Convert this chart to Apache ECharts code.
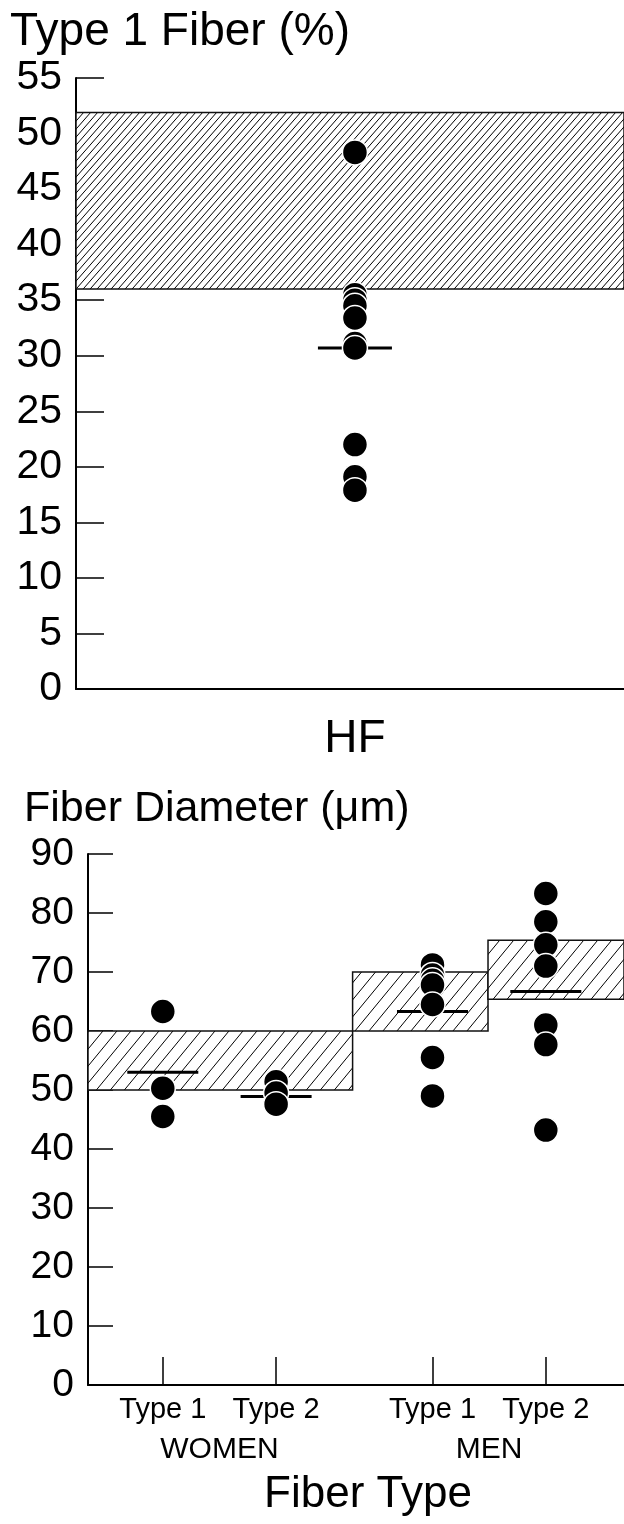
<!DOCTYPE html>
<html>
<head>
<meta charset="utf-8">
<script src="https://cdn.jsdelivr.net/npm/echarts@6/dist/echarts.min.js"></script>
<style>
html,body{margin:0;padding:0;background:#fff;}
#c{width:624px;height:1524px;}
</style>
</head>
<body>
<div id="c"></div>
<script>
// ---------- Top panel: Type 1 Fiber (%) ----------
const hfCategory = 'HF';
const hfPosition = 0.509;
const type1Values = [48.3, 35.5, 35.0, 34.5, 33.4, 31.1, 30.7, 22.0, 19.1, 17.9];
const type1Mean = 30.7;
const type1NormalRange = [0, 1, 36.0, 51.9];          // [xStart, xEnd, low, high]
const type1AxisMax = 55;
const type1AxisStep = 5;

// ---------- Bottom panel: Fiber Diameter (µm) ----------
const fiberCategories = ['Type 1', 'Type 2', 'Type 1', 'Type 2'];
const fiberPositions = [1, 2, 3.38, 4.38];
const groupNames = ['WOMEN', 'MEN'];
const groupPositions = [1.5, 3.88];
const womenType1 = [63.3, 50.3, 45.5];
const womenType2 = [51.4, 49.5, 47.6];
const menType1 = [71.2, 69.5, 68.6, 67.8, 64.5, 55.5, 49.0];
const menType2 = [83.3, 78.5, 74.6, 71.0, 61.0, 57.7, 43.2];
const diameterMeans = [53.0, 48.9, 63.3, 66.7];
const diameterRanges = [
  [0.34, 2.675, 50, 60],
  [2.675, 3.87, 60, 70],
  [3.87, 5.07, 65.4, 75.4]
];
const diameterXRange = [0.34, 5.07];
const diameterAxisMax = 90;
const diameterAxisStep = 10;

// ---------- helpers ----------
const FONT = '"Liberation Sans", Arial, Helvetica, sans-serif';

function makeHatch(p, q) {
  const cv = document.createElement('canvas');
  cv.width = p; cv.height = q;
  const ctx = cv.getContext('2d');
  ctx.fillStyle = '#fff';
  ctx.fillRect(0, 0, p, q);
  ctx.strokeStyle = '#000';
  ctx.lineWidth = 1;
  for (let k = -1; k <= 1; k++) {
    ctx.beginPath();
    ctx.moveTo(k * p, q);
    ctx.lineTo(k * p + p, 0);
    ctx.stroke();
  }
  return { image: cv, repeat: 'repeat' };
}
const hatchTop = makeHatch(7, 8);
const hatchBottom = makeHatch(14, 17);

function bandSeries(axisIdx, yIdx, data, pattern) {
  return {
    type: 'custom', xAxisIndex: axisIdx, yAxisIndex: yIdx, z: 1, silent: true, clip: false,
    data: data,
    renderItem: function (params, api) {
      const a = api.coord([api.value(0), api.value(3)]);
      const b = api.coord([api.value(1), api.value(2)]);
      return {
        type: 'rect',
        shape: { x: a[0], y: a[1], width: b[0] - a[0], height: b[1] - a[1] },
        style: { fill: pattern, stroke: '#111', lineWidth: 1.5 }
      };
    }
  };
}

function meanSeries(axisIdx, yIdx, data, halfLen) {
  return {
    type: 'custom', xAxisIndex: axisIdx, yAxisIndex: yIdx, z: 2, silent: true, clip: false,
    data: data,
    renderItem: function (params, api) {
      const c = api.coord([api.value(0), api.value(1)]);
      return {
        type: 'line',
        shape: { x1: c[0] - halfLen, y1: c[1], x2: c[0] + halfLen, y2: c[1] },
        style: { stroke: '#000', lineWidth: 3 }
      };
    }
  };
}

function scatterSeries(axisIdx, yIdx, data) {
  return {
    type: 'scatter', xAxisIndex: axisIdx, yAxisIndex: yIdx, z: 3, silent: true,
    symbol: 'circle', symbolSize: 25,
    itemStyle: { color: '#000', borderColor: '#fff', borderWidth: 1.5, opacity: 1 },
    data: data
  };
}

const topPoints = type1Values.map(v => [hfPosition, v]);
const bottomGroups = [womenType1, womenType2, menType1, menType2];
const bottomPoints = [];
bottomGroups.forEach((arr, i) => arr.forEach(v => bottomPoints.push([fiberPositions[i], v])));
const bottomMeans = diameterMeans.map((m, i) => [fiberPositions[i], m]);

const axisLineStyle = { color: '#000', width: 2 };
const tickLineStyle = { color: '#000', width: 1.5 };

const chart = echarts.init(document.getElementById('c'), null, { renderer: 'canvas' });
chart.setOption({
  animation: false,
  backgroundColor: '#fff',
  title: [
    { text: 'Type 1 Fiber (%)', left: 10, top: 9, padding: 0,
      textStyle: { fontSize: 46, fontWeight: 'normal', color: '#000', fontFamily: FONT, lineHeight: 46 } },
    { text: 'Fiber Diameter (μm)', left: 24, top: 788, padding: 0,
      textStyle: { fontSize: 43, fontWeight: 'normal', color: '#000', fontFamily: FONT, lineHeight: 43 } }
  ],
  grid: [
    { left: 76, right: 0, top: 78, bottom: 835, outerBoundsMode: 'none', containLabel: false },
    { left: 88, right: 0, top: 854, bottom: 139, outerBoundsMode: 'none', containLabel: false }
  ],
  xAxis: [
    { gridIndex: 0, type: 'value', min: 0, max: 1, position: 'bottom',
      axisLine: { show: true, lineStyle: axisLineStyle },
      axisTick: { show: false }, splitLine: { show: false },
      axisLabel: { show: true, customValues: [hfPosition], formatter: () => hfCategory,
        fontSize: 46, margin: 27, color: '#000', fontFamily: FONT, lineHeight: 46 } },
    { gridIndex: 1, type: 'value', min: diameterXRange[0], max: diameterXRange[1], position: 'bottom',
      axisLine: { show: true, lineStyle: axisLineStyle },
      axisTick: { show: true, inside: true, length: 28, customValues: fiberPositions, lineStyle: tickLineStyle },
      splitLine: { show: false },
      axisLabel: { show: true, customValues: fiberPositions,
        formatter: v => fiberCategories[fiberPositions.indexOf(v)],
        fontSize: 29, margin: 10, color: '#000', fontFamily: FONT, lineHeight: 29 },
      name: 'Fiber Type', nameLocation: 'middle', nameGap: 88,
      nameTextStyle: { fontSize: 44, color: '#000', fontFamily: FONT, lineHeight: 44, padding: [0, 0, 0, 24] } },
    { gridIndex: 1, type: 'value', min: diameterXRange[0], max: diameterXRange[1], position: 'bottom',
      axisLine: { show: false }, axisTick: { show: false }, splitLine: { show: false },
      axisLabel: { show: true, customValues: groupPositions,
        formatter: v => groupNames[groupPositions.indexOf(v)],
        fontSize: 30, margin: 50, color: '#000', fontFamily: FONT, lineHeight: 30 } }
  ],
  yAxis: [
    { gridIndex: 0, type: 'value', min: 0, max: type1AxisMax, interval: type1AxisStep,
      axisLine: { show: true, lineStyle: axisLineStyle },
      axisTick: { show: true, inside: true, length: 28, lineStyle: tickLineStyle },
      splitLine: { show: false },
      axisLabel: { fontSize: 41, margin: 14, color: '#000', fontFamily: FONT } },
    { gridIndex: 1, type: 'value', min: 0, max: diameterAxisMax, interval: diameterAxisStep,
      axisLine: { show: true, lineStyle: axisLineStyle },
      axisTick: { show: true, inside: true, length: 25, lineStyle: tickLineStyle },
      splitLine: { show: false },
      axisLabel: { fontSize: 39, margin: 14, color: '#000', fontFamily: FONT } }
  ],
  series: [
    bandSeries(0, 0, [type1NormalRange], hatchTop),
    meanSeries(0, 0, [[hfPosition, type1Mean]], 37),
    scatterSeries(0, 0, topPoints),
    bandSeries(1, 1, diameterRanges, hatchBottom),
    meanSeries(1, 1, bottomMeans, 35.5),
    scatterSeries(1, 1, bottomPoints)
  ]
});
</script>
</body>
</html>
